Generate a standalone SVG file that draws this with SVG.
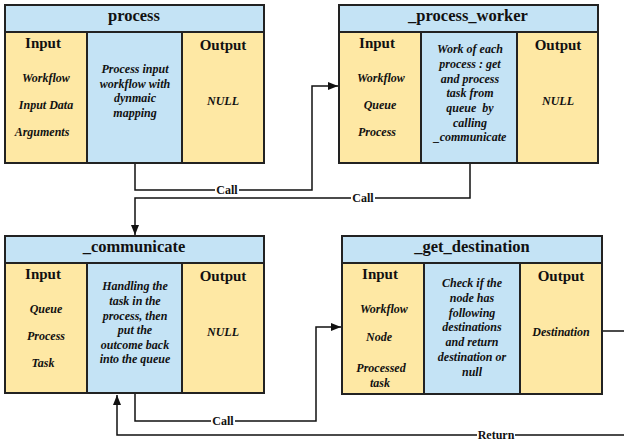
<svg xmlns="http://www.w3.org/2000/svg" width="624" height="441" viewBox="0 0 624 441">
  <style>
    .blue { fill: #c4e3f5; stroke: #222; stroke-width: 2; }
    .yel { fill: #fee8a4; stroke: #222; stroke-width: 2; }
    .title { font-family: "Liberation Serif", serif; font-weight: bold; font-size: 16.5px; fill: #111; text-anchor: middle; }
    .col { font-family: "Liberation Serif", serif; font-weight: bold; font-size: 15px; fill: #111; text-anchor: middle; }
    .item { font-family: "Liberation Serif", serif; font-weight: bold; font-style: italic; font-size: 12px; fill: #111; text-anchor: middle; }
    .wire { fill: none; stroke: #111; stroke-width: 1.5; }
    .lbl { font-family: "Liberation Serif", serif; font-weight: bold; font-size: 12px; fill: #111; text-anchor: middle; }
    .lblbg { fill: #fff; }
  </style>
  <defs>
    <marker id="arrow" viewBox="0 0 10 8" refX="10" refY="4" markerWidth="10" markerHeight="8" orient="auto" markerUnits="userSpaceOnUse">
      <path d="M0,0 L10,4 L0,8 z" fill="#111"/>
    </marker>
  </defs>

  <!-- process -->
  <g id="process">
    <rect class="blue" x="5" y="5" width="259" height="158"/>
    <rect class="yel" x="5" y="32" width="82" height="131"/>
    <rect class="yel" x="182" y="32" width="82" height="131"/>
    <line x1="5" y1="32" x2="264" y2="32" stroke="#222" stroke-width="2"/>
    <text class="title" x="134" y="21">process</text>
    <text class="col" x="43" y="48">Input</text>
    <text class="item" x="46" y="82">Workflow</text>
    <text class="item" x="46" y="109">Input Data</text>
    <text class="item" x="42" y="136">Arguments</text>
    <text class="item" x="135" y="73">Process input</text>
    <text class="item" x="135" y="88">workflow with</text>
    <text class="item" x="135" y="102">dynmaic</text>
    <text class="item" x="135" y="117">mapping</text>
    <text class="col" x="223" y="50">Output</text>
    <text class="item" x="223" y="105">NULL</text>
  </g>

  <!-- _process_worker -->
  <g id="process_worker">
    <rect class="blue" x="339" y="5" width="259" height="158"/>
    <rect class="yel" x="339" y="32" width="82" height="131"/>
    <rect class="yel" x="517" y="32" width="81" height="131"/>
    <line x1="339" y1="32" x2="598" y2="32" stroke="#222" stroke-width="2"/>
    <text class="title" x="468" y="21">_process_worker</text>
    <text class="col" x="377" y="48">Input</text>
    <text class="item" x="381" y="82">Workflow</text>
    <text class="item" x="380" y="109">Queue</text>
    <text class="item" x="377" y="136">Process</text>
    <text class="item" x="470" y="53">Work of each</text>
    <text class="item" x="470" y="68">process : get</text>
    <text class="item" x="470" y="83">and process</text>
    <text class="item" x="470" y="97">task from</text>
    <text class="item" x="470" y="112" xml:space="preserve">queue  by</text>
    <text class="item" x="470" y="127">calling</text>
    <text class="item" x="470" y="141">_communicate</text>
    <text class="col" x="558" y="50">Output</text>
    <text class="item" x="558" y="105">NULL</text>
  </g>

  <!-- _communicate -->
  <g id="communicate">
    <rect class="blue" x="5" y="236" width="259" height="157"/>
    <rect class="yel" x="5" y="263" width="82" height="130"/>
    <rect class="yel" x="182" y="263" width="82" height="130"/>
    <line x1="5" y1="263" x2="264" y2="263" stroke="#222" stroke-width="2"/>
    <text class="title" x="134" y="252">_communicate</text>
    <text class="col" x="43" y="279">Input</text>
    <text class="item" x="46" y="313">Queue</text>
    <text class="item" x="46" y="340">Process</text>
    <text class="item" x="43" y="367">Task</text>
    <text class="item" x="135" y="290">Handling the</text>
    <text class="item" x="135" y="305">task in the</text>
    <text class="item" x="135" y="320">process, then</text>
    <text class="item" x="135" y="334">put the</text>
    <text class="item" x="135" y="349">outcome back</text>
    <text class="item" x="135" y="363">into the queue</text>
    <text class="col" x="223" y="281">Output</text>
    <text class="item" x="223" y="336">NULL</text>
  </g>

  <!-- _get_destination -->
  <g id="get_destination">
    <rect class="blue" x="342" y="236" width="260" height="158"/>
    <rect class="yel" x="342" y="263" width="82" height="131"/>
    <rect class="yel" x="520" y="263" width="82" height="131"/>
    <line x1="342" y1="263" x2="602" y2="263" stroke="#222" stroke-width="2"/>
    <text class="title" x="472" y="252">_get_destination</text>
    <text class="col" x="380" y="279">Input</text>
    <text class="item" x="384" y="313">Workflow</text>
    <text class="item" x="379" y="341">Node</text>
    <text class="item" x="381" y="372">Processed</text>
    <text class="item" x="380" y="387">task</text>
    <text class="item" x="472" y="287">Check if the</text>
    <text class="item" x="472" y="302">node has</text>
    <text class="item" x="472" y="317">following</text>
    <text class="item" x="472" y="331">destinations</text>
    <text class="item" x="472" y="346">and return</text>
    <text class="item" x="472" y="361">destination or</text>
    <text class="item" x="472" y="376">null</text>
    <text class="col" x="561" y="281">Output</text>
    <text class="item" x="561" y="336">Destination</text>
  </g>

  <!-- connectors -->
  <g id="connectors">
    <path class="wire" d="M135,164 V190 H312 V86 H338" marker-end="url(#arrow)"/>
    <path class="wire" d="M470,164 V198 H135 V235" marker-end="url(#arrow)"/>
    <path class="wire" d="M135,394 V421 H316 V327 H341" marker-end="url(#arrow)"/>
    <path class="wire" d="M603,331 H630 V435 H117 V395" marker-end="url(#arrow)"/>

    <rect class="lblbg" x="215" y="183" width="24" height="13"/>
    <text class="lbl" x="227" y="194">Call</text>
    <rect class="lblbg" x="351" y="191" width="24" height="13"/>
    <text class="lbl" x="363" y="202">Call</text>
    <rect class="lblbg" x="211" y="414" width="24" height="13"/>
    <text class="lbl" x="223" y="425">Call</text>
    <rect class="lblbg" x="477" y="428" width="38" height="13"/>
    <text class="lbl" x="496" y="439">Return</text>
  </g>
</svg>
